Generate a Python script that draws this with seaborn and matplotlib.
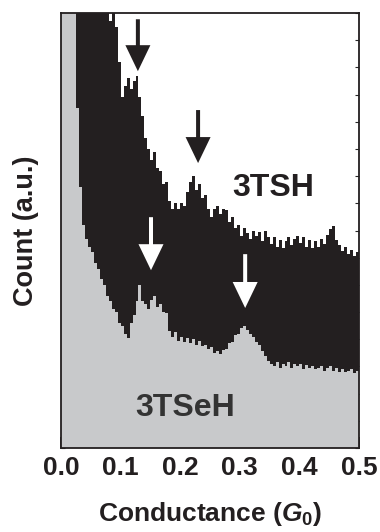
import numpy as np
import pandas as pd
import matplotlib
matplotlib.use("Agg")
import matplotlib.pyplot as plt
import seaborn as sns

# Histogram bins (conductance, G0), 0.005 wide
bin_width = 0.005
bin_centers = np.arange(100) * bin_width + bin_width / 2

# 3TSH counts (a.u.); values above 16 are clipped by the frame
count_3tsh = [
    17, 17, 17, 17, 17, 17, 17, 17, 17, 17,
    17, 17, 17, 17, 17, 17, 15.7, 16.2, 15.5, 14.2,
    12.9, 13.3, 13.6, 13.2, 13.5, 13.7, 12.9, 12.2, 11.4, 11.0,
    10.6, 10.9, 10.3, 10.2, 9.7, 9.8, 9.1, 8.8, 9.0, 8.8,
    9.0, 8.9, 9.4, 9.8, 10.0, 9.5, 9.7, 9.2, 9.3, 8.8,
    8.5, 8.8, 8.9, 8.6, 8.8, 8.75, 8.3, 8.5, 8.1, 8.2,
    7.8, 8.1, 7.9, 7.7, 8.0, 7.8, 7.95, 7.6, 8.0, 7.75,
    7.5, 7.75, 7.4, 7.65, 7.35, 7.6, 7.75, 7.45, 7.7, 7.8,
    7.55, 7.75, 7.4, 7.65, 7.35, 7.6, 7.4, 7.7, 7.5, 7.85,
    8.05, 8.15, 7.65, 7.45, 7.25, 7.4, 7.15, 7.3, 7.05, 7.2,
]

# 3TSeH counts (a.u.)
count_3tseh = [
    17, 17, 17, 17, 17, 12.5, 9.6, 8.2, 7.7, 7.4,
    7.2, 6.8, 6.6, 6.2, 6.0, 5.6, 5.4, 5.1, 5.0, 4.6,
    4.5, 4.2, 4.05, 4.6, 4.9, 5.4, 6.0, 5.4, 5.3, 5.1,
    5.45, 5.6, 5.2, 5.3, 5.0, 4.95, 4.3, 4.1, 4.25, 3.95,
    4.1, 3.9, 4.05, 3.85, 4.0, 3.8, 3.95, 3.75, 3.8, 3.65,
    3.7, 3.5, 3.55, 3.45, 3.6, 3.65, 3.85, 3.9, 4.15, 4.2,
    4.4, 4.5, 4.35, 4.2, 4.1, 3.9, 3.8, 3.55, 3.4, 3.2,
    3.1, 3.0, 3.15, 2.95, 3.1, 3.0, 3.15, 2.95, 3.1, 3.0,
    3.1, 2.9, 3.05, 2.95, 3.0, 2.9, 2.95, 3.0, 2.85, 2.95,
    3.0, 2.85, 2.95, 2.8, 2.9, 2.8, 2.85, 2.9, 2.75, 2.85,
]

# peak markers: (G, tail, tip)
black_arrows = [(0.129, 15.77, 13.86), (0.230, 12.43, 10.48)]
white_arrows = [(0.151, 8.49, 6.54), (0.309, 7.13, 5.15)]

df = pd.DataFrame({"G": bin_centers, "tsh": count_3tsh, "tseh": count_3tseh})

sns.set_style("ticks")
plt.rcParams["font.family"] = ["Liberation Sans", "DejaVu Sans"]
plt.rcParams["font.weight"] = "bold"
plt.rcParams["mathtext.fontset"] = "custom"
plt.rcParams["mathtext.it"] = "Liberation Sans:italic:bold"
plt.rcParams["mathtext.rm"] = "Liberation Sans:bold"

dark = "#231f20"
grey = "#c8c9cb"

fig = plt.figure(figsize=(3.8, 5.32), dpi=100)
ax = fig.add_axes([61 / 380, 84 / 532, 298 / 380, 435 / 532])

sns.histplot(data=df, x="G", weights="tsh", binwidth=bin_width, binrange=(0, 0.5),
             element="step", fill=True, color=dark, alpha=1, linewidth=0, ax=ax)
sns.histplot(data=df, x="G", weights="tseh", binwidth=bin_width, binrange=(0, 0.5),
             element="step", fill=True, color=grey, alpha=1, linewidth=0, ax=ax)

arrow_style = "simple,head_length=0.52,head_width=0.5,tail_width=0.08"
for g, y0, y1 in black_arrows:
    ax.annotate("", xy=(g, y1), xytext=(g, y0),
                arrowprops=dict(arrowstyle=arrow_style, mutation_scale=36,
                                color=dark, shrinkA=0, shrinkB=0, lw=0))
for g, y0, y1 in white_arrows:
    ax.annotate("", xy=(g, y1), xytext=(g, y0),
                arrowprops=dict(arrowstyle=arrow_style, mutation_scale=36,
                                color="white", shrinkA=0, shrinkB=0, lw=0))

ax.text(0.287, 9.58, "3TSH", fontsize=23, fontweight="bold", color=dark,
        ha="left", va="center")
ax.text(0.124, 1.47, "3TSeH", fontsize=23, fontweight="bold", color="#333333",
        ha="left", va="center")

ax.set_xlim(0, 0.5)
ax.set_ylim(0, 16)
ax.set_xticks(np.arange(0, 0.51, 0.1))
ax.set_xticks(np.arange(0.05, 0.5, 0.1), minor=True)
ax.set_xticklabels([f"{v:.1f}" for v in np.arange(0, 0.51, 0.1)])
ax.set_yticks(np.arange(0, 17, 1))
ax.set_yticklabels([])
ax.tick_params(axis="x", which="both", direction="in", length=8, width=1.3,
               labelsize=19, pad=6, colors=dark)
ax.tick_params(axis="y", direction="in", length=3, width=0.8, left=True, right=True,
               labelleft=False)
for s in ax.spines.values():
    s.set_linewidth(1.3)
    s.set_color(dark)
    s.set_zorder(5)

ax.set_xlabel(r"Conductance ($G_0$)", fontsize=19, fontweight="bold", color=dark)
ax.set_ylabel("Count (a.u.)", fontsize=19.5, fontweight="bold", color=dark)
ax.xaxis.set_label_coords(0.5, -0.12)
ax.yaxis.set_label_coords(-0.074, 0.5)

fig.savefig("out.png", dpi=100)
